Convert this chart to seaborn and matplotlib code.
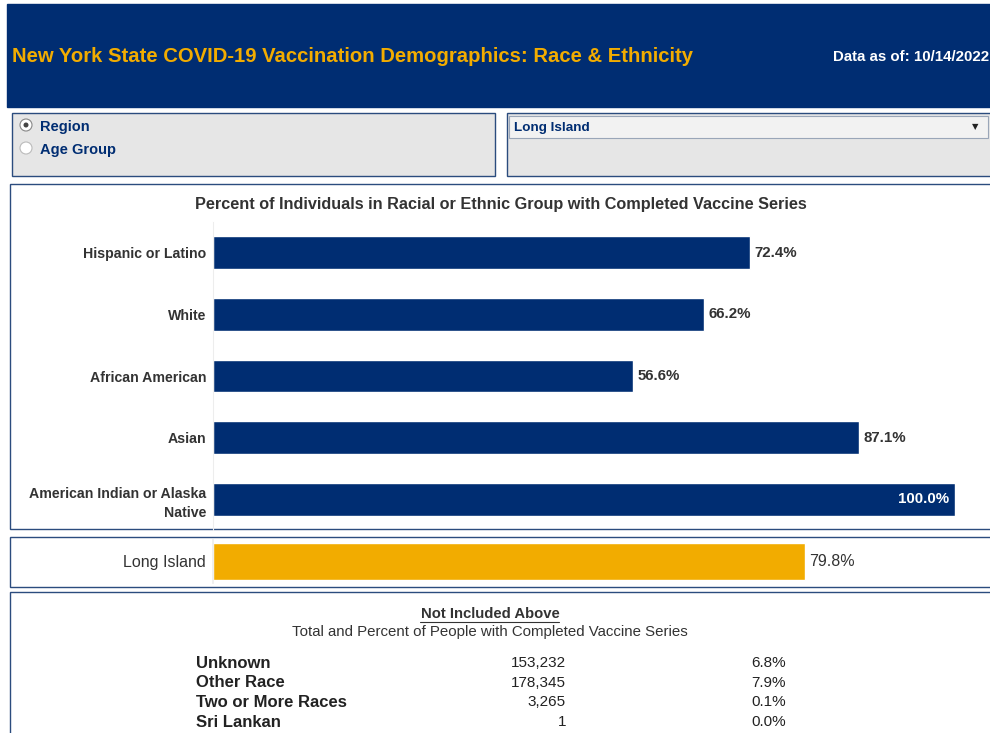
import matplotlib
matplotlib.use("Agg")
import matplotlib.pyplot as plt
from matplotlib.patches import Rectangle, Circle
import pandas as pd
import seaborn as sns

# Chart data
groups = ["Hispanic or Latino", "White", "African American", "Asian",
          "American Indian or Alaska\nNative"]
group_pct = [72.4, 66.2, 56.6, 87.1, 100.0]

region = ["Long Island"]
region_pct = [79.8]

other_groups = ["Unknown", "Other Race", "Two or More Races", "Sri Lankan"]
other_counts = [153232, 178345, 3265, 1]
other_pct = [6.8, 7.9, 0.1, 0.0]

NAVY = "#002D72"
GOLD = "#F2AC00"
BORDER = "#2B4C7E"
GRAY_TXT = "#333333"

sns.set_theme(style="white")
plt.rcParams["font.family"] = ["Liberation Sans", "DejaVu Sans"]

W, H = 990, 733
fig = plt.figure(figsize=(W / 100, H / 100), dpi=100)

# background layer in pixel coordinates
bg = fig.add_axes([0, 0, 1, 1], zorder=0)
bg.set_xlim(0, W)
bg.set_ylim(H, 0)
bg.axis("off")


def box(x0, y0, x1, y1, fc="white", ec=BORDER, lw=1.0):
    bg.add_patch(Rectangle((x0, y0), x1 - x0, y1 - y0, facecolor=fc,
                           edgecolor=ec, linewidth=lw))


# header
box(7, 4, 992, 107, fc=NAVY, ec=NAVY)
bg.text(12, 56, "New York State COVID-19 Vaccination Demographics: Race & Ethnicity",
        color="#F2AC00", fontsize=14.6, fontweight="bold", va="center", ha="left")
bg.text(833, 57, "Data as of: 10/14/2022", color="white", fontsize=10.8,
        fontweight="bold", va="center", ha="left")

# control boxes
box(12, 113, 495, 176, fc="#E6E6E6")
box(507, 113, 992, 176, fc="#E6E6E6")
box(509, 116, 988, 138, fc="#F2F2F2", ec="#9AA6B8", lw=0.8)
bg.text(514, 128, "Long Island", color=NAVY, fontsize=9.7, fontweight="bold", va="center")
bg.text(975, 127, "\u25BC", color="#222222", fontsize=6, va="center", ha="center",
        family="DejaVu Sans")
bg.add_patch(Circle((26, 125), 6, facecolor="white", edgecolor="#888888", lw=0.8))
bg.add_patch(Circle((26, 125), 2.5, facecolor="#444444", edgecolor="none"))
bg.add_patch(Circle((26, 148), 6, facecolor="white", edgecolor="#BBBBBB", lw=0.8))
bg.text(40, 127, "Region", color=NAVY, fontsize=10.5, fontweight="bold", va="center")
bg.text(40, 150, "Age Group", color=NAVY, fontsize=10.5, fontweight="bold", va="center")

# chart panels
box(10, 184, 992, 529)
box(10, 537, 992, 587)
box(10, 592, 992, 745)

bg.text(501, 204, "Percent of Individuals in Racial or Ethnic Group with Completed Vaccine Series",
        color=GRAY_TXT, fontsize=11.7, fontweight="bold", ha="center", va="center")

# main bars
df = pd.DataFrame({"group": groups, "pct": group_pct})
ax = fig.add_axes([213 / W, 1 - 530 / H, 742 / W, 308 / H], zorder=1)
ax.patch.set_alpha(0)
sns.barplot(data=df, x="pct", y="group", color=NAVY, saturation=1, width=0.53, ax=ax)
ax.set_xlim(0, 100)
ax.set_ylim(4.5, -0.5)
ax.set_xlabel("")
ax.set_ylabel("")
ax.set_xticks([])
for s in ["top", "right", "bottom"]:
    ax.spines[s].set_visible(False)
ax.spines["left"].set_color("#EDEDED")
ax.spines["left"].set_linewidth(0.8)
ax.tick_params(axis="y", length=0, pad=5, labelsize=10.2, labelcolor=GRAY_TXT)
for lbl in ax.get_yticklabels():
    lbl.set_fontweight("bold")
    lbl.set_horizontalalignment("right")
    lbl.set_multialignment("right")
    lbl.set_linespacing(1.5)
for i, v in enumerate(group_pct):
    if v >= 99:
        ax.annotate(f"{v:.1f}%", (v, i), xytext=(-4, 0), textcoords="offset points",
                    ha="right", va="center", color="white", fontsize=10.8, fontweight="bold")
    else:
        ax.annotate(f"{v:.1f}%", (v, i), xytext=(3, 0), textcoords="offset points",
                    ha="left", va="center", color=GRAY_TXT, fontsize=10.8, fontweight="bold")

# region bar
rdf = pd.DataFrame({"region": region, "pct": region_pct})
ax2 = fig.add_axes([213 / W, 1 - 583 / H, 742 / W, 43 / H], zorder=1)
ax2.patch.set_alpha(0)
sns.barplot(data=rdf, x="pct", y="region", color=GOLD, saturation=1, width=0.86, ax=ax2)
ax2.set_xlim(0, 100)
ax2.set_ylim(0.5, -0.5)
ax2.set_xlabel("")
ax2.set_ylabel("")
ax2.set_xticks([])
for s in ["top", "right", "bottom"]:
    ax2.spines[s].set_visible(False)
ax2.spines["left"].set_color("#EDEDED")
ax2.tick_params(axis="y", length=0, pad=5, labelsize=11.5, labelcolor=GRAY_TXT)
for i, v in enumerate(region_pct):
    ax2.annotate(f"{v:.1f}%", (v, i), xytext=(3, 0), textcoords="offset points",
                 ha="left", va="center", color=GRAY_TXT, fontsize=11.5)

# not-included table
bg.text(490, 614, "Not Included Above", color=GRAY_TXT, fontsize=10.7,
        fontweight="bold", ha="center", va="center")
bg.plot([420, 559], [621.5, 621.5], color=GRAY_TXT, lw=0.8)
bg.text(490, 632, "Total and Percent of People with Completed Vaccine Series",
        color=GRAY_TXT, fontsize=10.8, ha="center", va="center")
for k, (name, cnt, p) in enumerate(zip(other_groups, other_counts, other_pct)):
    y = 663 + k * 19.7
    bg.text(196, y, name, color="#222222", fontsize=12, fontweight="bold", va="center")
    bg.text(566, y, f"{cnt:,}", color="#222222", fontsize=11, ha="right", va="center")
    bg.text(786, y, f"{p:.1f}%", color="#222222", fontsize=11, ha="right", va="center")

fig.savefig("out.png", dpi=100)
